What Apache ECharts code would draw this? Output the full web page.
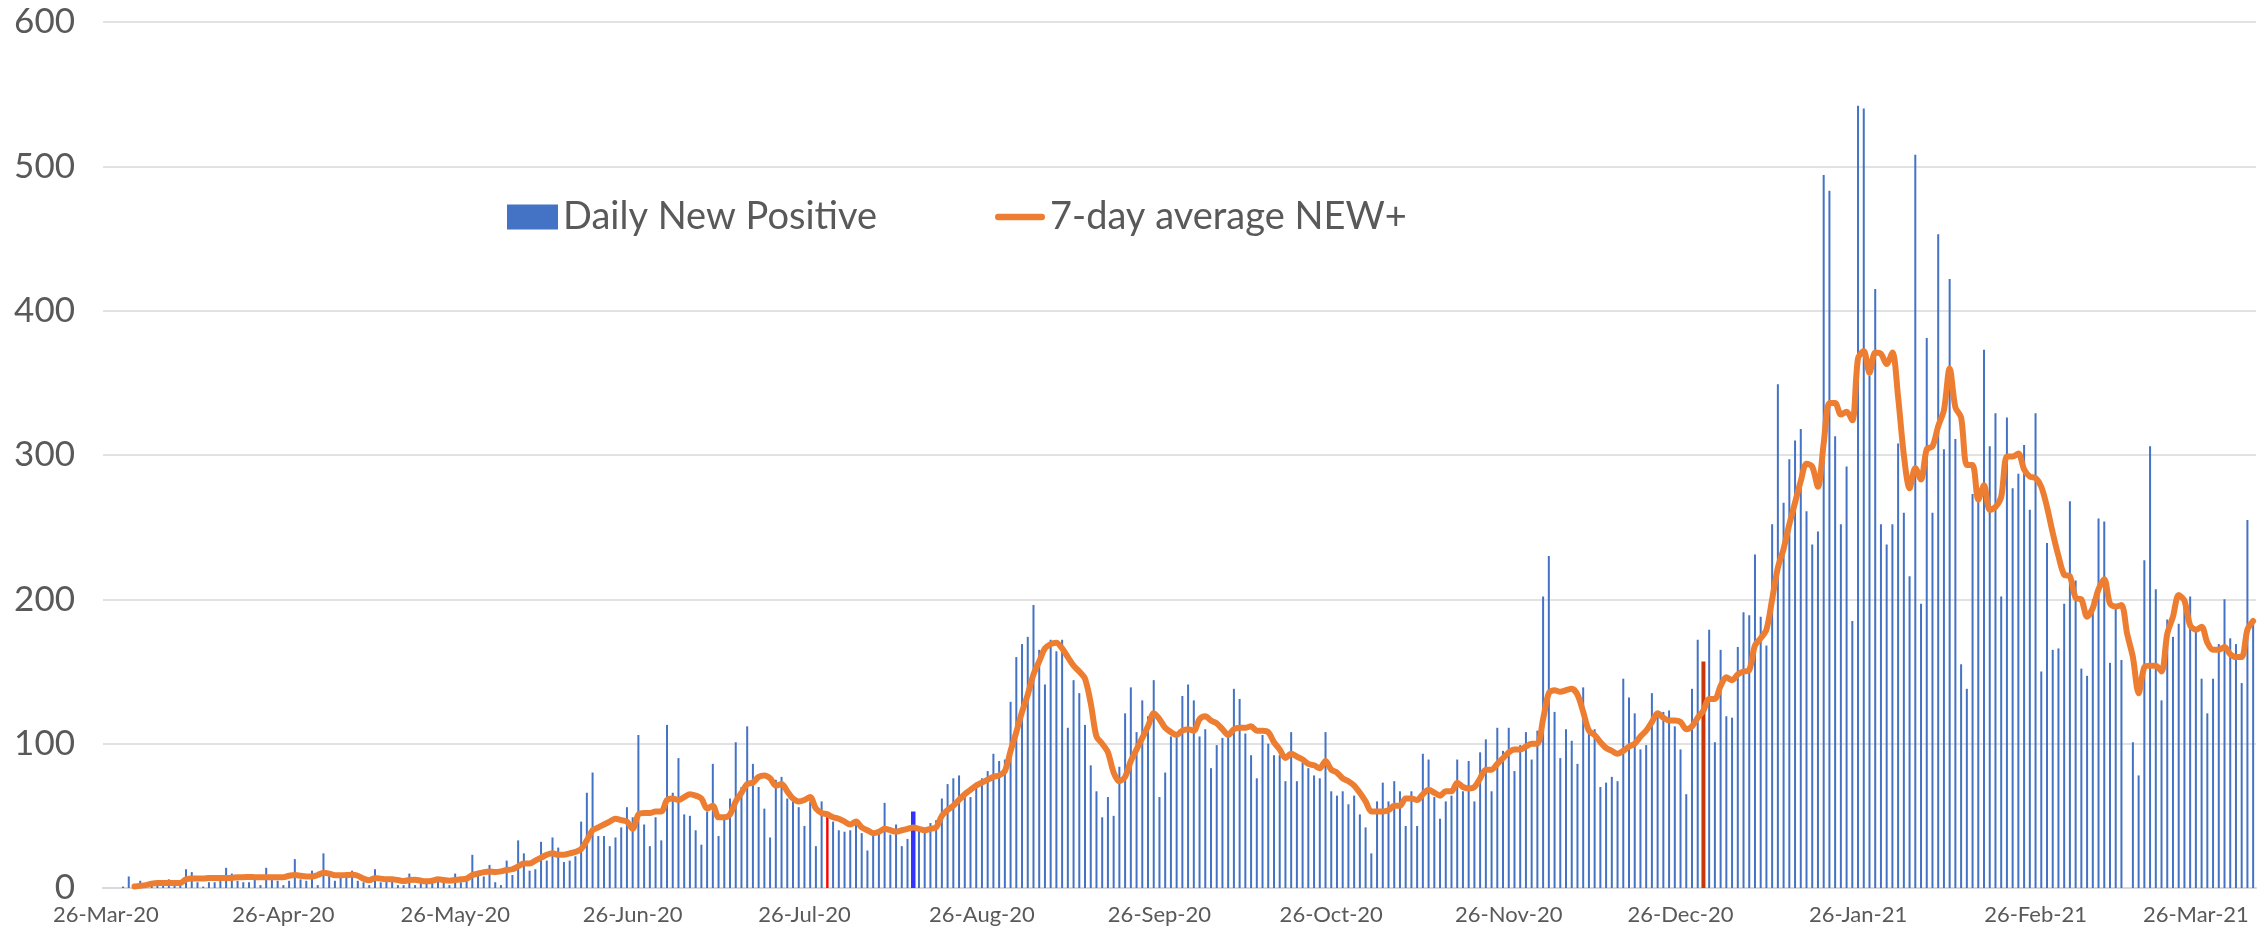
<!DOCTYPE html>
<html>
<head>
<meta charset="utf-8">
<script src="https://cdn.jsdelivr.net/npm/echarts@6/dist/echarts.min.js"></script>
<style>
  html, body { margin: 0; padding: 0; background: #ffffff; }
  #chart { width: 2267px; height: 933px; }
</style>
</head>
<body>
<div id="chart"></div>
<script>
// ---------- DATA ----------
const startDate = '2020-03-26';   // first category on the date axis
const tickLabels = ['26-Mar-20','26-Apr-20','26-May-20','26-Jun-20','26-Jul-20','26-Aug-20',
  '26-Sep-20','26-Oct-20','26-Nov-20','26-Dec-20','26-Jan-21','26-Feb-21','26-Mar-21'];

// Daily New Positive, by calendar month
const dailyMar20 = [null, null, null, 1, 8, 1];
const dailyApr20 = [5, 2, 3, 3, 4, 6, 3, 5, 13, 11, 4, 1, 4, 4, 5, 14, 10, 5, 4, 4, 6, 2, 14, 9, 5, 2, 5, 20, 6, 5];
const dailyMay20 = [12, 2, 24, 10, 5, 7, 9, 12, 5, 4, 2, 13, 4, 5, 5, 2, 2, 10, 2, 7, 3, 4, 5, 5, 2, 10, 4, 5, 23, 12, 8];
const dailyJun20 = [16, 4, 2, 19, 9, 33, 24, 12, 13, 32, 19, 35, 28, 18, 19, 22, 46, 66, 80, 36, 36, 29, 35, 42, 56, 49, 106, 44, 29, 49];
const dailyJul20 = [33, 113, 66, 90, 51, 50, 40, 30, 53, 86, 36, 48, 62, 101, 70, 112, 86, 70, 55, 35, 75, 77, 62, 60, 56, 43, 60, 29, 60, 50, 46];
const dailyAug20 = [40, 39, 40, 44, 38, 26, 37, 38, 59, 37, 44, 29, 34, 53, 40, 39, 45, 47, 62, 72, 76, 78, 67, 63, 73, 76, 81, 93, 88, 89, 129];
const dailySep20 = [160, 169, 174, 196, 165, 141, 172, 164, 172, 111, 144, 135, 113, 85, 67, 49, 63, 50, 84, 121, 139, 108, 130, 119, 144, 63, 80, 105, 105, 133];
const dailyOct20 = [141, 130, 105, 110, 83, 99, 104, 105, 138, 131, 107, 92, 76, 106, 100, 92, 92, 74, 108, 74, 87, 83, 78, 76, 108, 67, 64, 67, 58, 64, 51];
const dailyNov20 = [42, 24, 60, 73, 60, 74, 67, 43, 67, 43, 93, 89, 63, 48, 60, 64, 89, 67, 88, 60, 94, 103, 67, 111, 95, 111, 81, 99, 108, 89];
const dailyDec20 = [109, 202, 230, 122, 90, 110, 102, 86, 139, 109, 110, 70, 73, 77, 74, 145, 132, 121, 96, 99, 135, 122, 122, 123, 112, 96, 65, 138, 172, 157, 179];
const dailyJan21 = [101, 165, 119, 118, 167, 191, 189, 231, 188, 168, 252, 349, 267, 297, 310, 318, 261, 238, 247, 494, 483, 313, 252, 292, 185, 542, 540, 355, 415, 252, 238];
const dailyFeb21 = [252, 308, 260, 216, 508, 197, 381, 260, 453, 304, 422, 311, 155, 138, 273, 269, 373, 306, 329, 202, 326, 277, 287, 307, 262, 329, 150, 239];
const dailyMar21 = [165, 166, 197, 268, 213, 152, 147, 200, 256, 254, 156, 194, 158, null, 101, 78, 227, 306, 207, 130, 186, 174, 183, 197, 202, 179, 145, 121, 145, 169, 200];
const dailyApr21 = [173, 169, 142, 255, 185];

// 7-day average NEW+, by calendar month
const avgMar20 = [null, null, null, null, null, 1];
const avgApr20 = [1.5, 2, 3, 3.5, 3.5, 3.5, 3.5, 3.5, 6, 6.5, 6.5, 6.5, 7, 7, 7, 7, 7, 7.5, 7.5, 7.6, 7.5, 7.4, 7.4, 7.4, 7.4, 7.4, 8.5, 9, 8.5, 8];
const avgMay20 = [8, 9, 10.6, 10, 8.8, 8.8, 9, 9.2, 8.5, 6.5, 5.3, 7, 6.5, 6, 6, 5.5, 4.8, 5.5, 5.8, 5, 4.6, 5, 6, 5.5, 5, 5.5, 6, 6.5, 9, 10, 11];
const avgJun20 = [11.5, 11, 11.5, 12.5, 13, 15, 17, 17, 19, 21, 23, 24, 23, 23, 24, 25, 27, 33, 40, 42, 44, 46, 48, 47, 46, 41, 51, 52, 52, 53];
const avgJul20 = [53, 61, 62, 61, 63, 65, 64, 62, 55, 57, 49, 49, 51, 60, 66, 72, 73, 77, 78, 76, 71, 72, 67, 62, 60, 61, 63, 55, 52, 51, 49];
const avgAug20 = [48, 46, 44, 46, 42, 40, 38, 39, 41, 40, 39, 40, 41, 42, 41, 40, 41, 42, 50, 54, 57, 61, 65, 68, 71, 73, 75, 77, 78, 81, 95];
const avgSep20 = [108, 122, 134, 148, 157, 166, 169, 170, 166, 160, 154, 150, 145, 128, 105, 100, 94, 80, 74, 77, 88, 96, 104, 112, 121, 117, 111, 108, 106, 109];
const avgOct20 = [110, 109, 117, 119, 116, 114, 110, 106, 110, 111, 111, 112, 109, 109, 108, 101, 96, 90, 93, 91, 89, 86, 85, 83, 88, 82, 80, 76, 74, 71, 66];
const avgNov20 = [60, 53, 53, 53, 54, 57, 57, 62, 62, 61, 65, 68, 66, 64, 67, 67, 73, 70, 69, 70, 76, 82, 82, 86, 90, 94, 96, 96, 98, 100];
const avgDec20 = [100, 117, 135, 137, 136, 137, 138, 134, 122, 109, 106, 101, 97, 95, 93, 95, 98, 100, 105, 109, 115, 121, 118, 116, 116, 115, 110, 112, 118, 123, 131];
const avgJan21 = [131, 140, 146, 144, 148, 150, 151, 168, 173, 179, 200, 222, 235, 252, 267, 282, 294, 292, 278, 308, 336, 336, 328, 330, 324, 367, 372, 357, 371, 370, 363];
const avgFeb21 = [371, 340, 300, 277, 291, 283, 304, 306, 320, 331, 360, 333, 326, 293, 293, 269, 279, 262, 264, 271, 299, 299, 301, 290, 285, 284, 278, 264];
const avgMar21 = [246, 230, 217, 216, 201, 200, 188, 194, 207, 214, 197, 195, 196, 176, 160, 135, 153, 154, 154, 150, 176, 188, 203, 199, 182, 179, 181, 170, 165, 165, 167];
const avgApr21 = [162, 160, 160, 179, 185];

// Days whose bar is drawn in a highlight colour in the original
const highlightDates = ['30-Jul-20', '14-Aug-20', '30-Dec-20'];

// ---------- BUILD ----------
const dailyNew = [].concat(dailyMar20, dailyApr20, dailyMay20, dailyJun20, dailyJul20, dailyAug20,
  dailySep20, dailyOct20, dailyNov20, dailyDec20, dailyJan21, dailyFeb21, dailyMar21, dailyApr21);
const sevenDayAvg = [].concat(avgMar20, avgApr20, avgMay20, avgJun20, avgJul20, avgAug20,
  avgSep20, avgOct20, avgNov20, avgDec20, avgJan21, avgFeb21, avgMar21, avgApr21);

const MONTHS = ['Jan','Feb','Mar','Apr','May','Jun','Jul','Aug','Sep','Oct','Nov','Dec'];
function fmt(d) {
  const dd = String(d.getUTCDate()).padStart(2, '0');
  return dd + '-' + MONTHS[d.getUTCMonth()] + '-' + String(d.getUTCFullYear()).slice(2);
}
const categories = [];
const t0 = Date.parse(startDate + 'T00:00:00Z');
for (let i = 0; i < dailyNew.length; i++) categories.push(fmt(new Date(t0 + i * 86400000)));

// highlight styles (colour and drawn width of each highlighted bar)
const highlightStyle = {
  '30-Jul-20': { color: '#FF0000', width: 2.4 },
  '14-Aug-20': { color: '#3333FF', width: 4.5 },
  '30-Dec-20': { color: '#C8370A', width: 4 }
};
const mainBars = dailyNew.map((v, i) => highlightDates.indexOf(categories[i]) >= 0 ? null : v);

const isTick = (idx, val) => tickLabels.indexOf(val) >= 0;
const FONT = 'Lato, "Liberation Sans", sans-serif';
const TXT = '#595959';

// one hidden category axis per highlighted bar so each keeps its own width, centred on its day
const hiddenAxes = highlightDates.map(() => ({
  type: 'category', data: categories, boundaryGap: true, show: false, gridIndex: 0
}));
const highlightSeries = highlightDates.map((d, k) => ({
  name: 'hl' + k,
  type: 'bar',
  xAxisIndex: k + 1,
  barWidth: highlightStyle[d].width,
  itemStyle: { color: highlightStyle[d].color },
  data: dailyNew.map((v, i) => categories[i] === d ? v : null),
  z: 2
}));

const chart = echarts.init(document.getElementById('chart'), null, { renderer: 'canvas' });
chart.setOption({
  animation: false,
  backgroundColor: '#ffffff',
  grid: { left: 103, right: 11, top: 22, bottom: 45, containLabel: false },
  legend: [
    {
      data: [{ name: 'Daily New Positive', icon: 'rect' }],
      left: 507, top: 198, itemWidth: 51, itemHeight: 25, padding: 0,
      textStyle: { fontSize: 38, color: TXT, fontFamily: FONT },
      selectedMode: false
    },
    {
      data: [{ name: '7-day average NEW+', icon: 'path://M3,0H97A3,3 0 0 1 97,14H3A3,3 0 0 1 3,0Z' }],
      left: 995, top: 198, itemWidth: 50, itemHeight: 25, padding: 0,
      symbolKeepAspect: true,
      itemStyle: { color: '#ED7D31' },
      textStyle: { fontSize: 38, color: TXT, fontFamily: FONT },
      selectedMode: false
    }
  ],
  xAxis: [{
    type: 'category',
    data: categories,
    boundaryGap: true,
    axisLine: { lineStyle: { color: '#D9D9D9', width: 2 } },
    axisTick: { interval: isTick, length: 8, lineStyle: { color: '#D9D9D9', width: 2 } },
    axisLabel: { interval: isTick, color: TXT, fontFamily: FONT, fontSize: 22, margin: 16 },
    splitLine: { show: false }
  }].concat(hiddenAxes),
  yAxis: {
    type: 'value',
    min: 0, max: 600, interval: 100,
    axisLine: { show: false },
    axisTick: { show: false },
    axisLabel: { color: TXT, fontFamily: FONT, fontSize: 35, margin: 28 },
    splitLine: { lineStyle: { color: '#D9D9D9', width: 1.5 } }
  },
  series: [
    {
      name: 'Daily New Positive',
      type: 'bar',
      data: mainBars,
      barWidth: 2,
      itemStyle: { color: '#4472C4' }
    }
  ].concat(highlightSeries).concat([
    {
      name: '7-day average NEW+',
      type: 'line',
      data: sevenDayAvg,
      symbol: 'none',
      showSymbol: false,
      smooth: 0.3,
      lineStyle: { color: '#ED7D31', width: 6, cap: 'round', join: 'round' },
      itemStyle: { color: '#ED7D31' },
      z: 5
    }
  ])
});
</script>
</body>
</html>
